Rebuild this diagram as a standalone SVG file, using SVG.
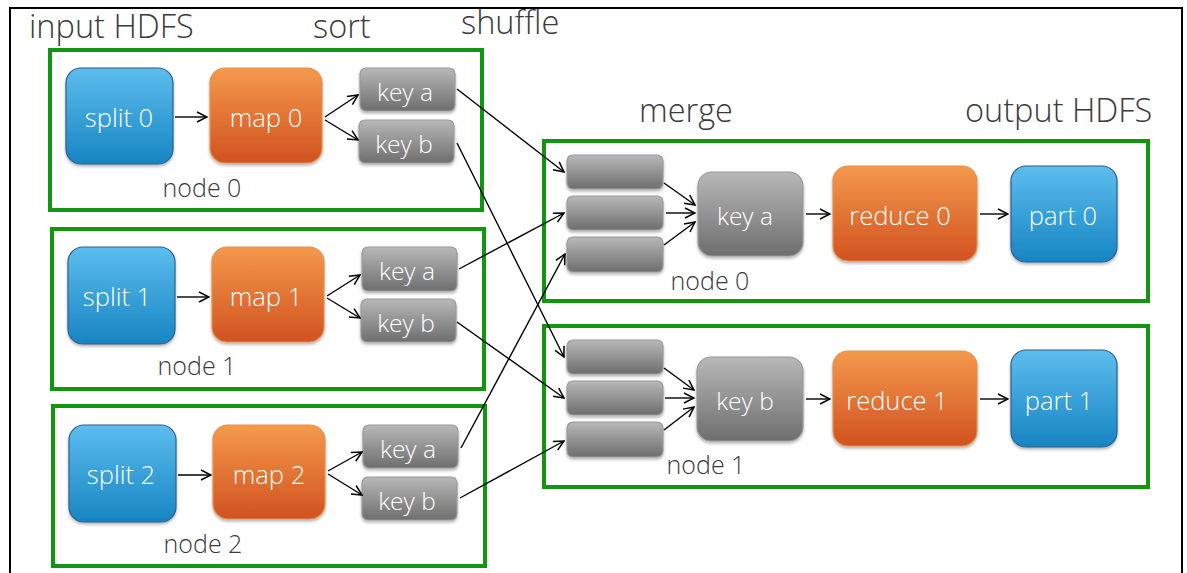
<svg xmlns="http://www.w3.org/2000/svg" width="1187" height="573" viewBox="0 0 1187 573">
  <style>
    .frame { fill: none; stroke: #000; stroke-width: 2; }
    .group { fill: none; stroke: #10960f; stroke-width: 4; }
    .split { fill: url(#gBlue); stroke: #2f5f8c; stroke-width: 1.2; filter: url(#shadow); }
    .map { fill: url(#gOrange); stroke: #e3914a; stroke-width: 1.2; filter: url(#shadow); }
    .key { fill: url(#gGray); stroke: #9a9a9a; stroke-width: 1.2; filter: url(#shadow); }
    .lbl { font-family: "Open Sans", "Liberation Sans", sans-serif; font-weight: 300; fill: #3a3a3a; }
    .head { font-size: 32.5px; }
    .nodelbl { font-size: 25px; text-anchor: middle; }
    .in { font-family: "Open Sans", "Liberation Sans", sans-serif; font-weight: 300; fill: #fff; text-anchor: middle; dominant-baseline: central; }
    .big { font-size: 25.5px; }
    .small { font-size: 24.5px; }
    .conn line { stroke: #000; stroke-width: 1.4; marker-end: url(#arrow); }
  </style>
  <defs>
    <linearGradient id="gBlue" x1="0" y1="0" x2="0" y2="1">
      <stop offset="0" stop-color="#5dbdee"/>
      <stop offset="1" stop-color="#1685c2"/>
    </linearGradient>
    <linearGradient id="gOrange" x1="0" y1="0" x2="0" y2="1">
      <stop offset="0" stop-color="#f4994c"/>
      <stop offset="1" stop-color="#d15220"/>
    </linearGradient>
    <linearGradient id="gGray" x1="0" y1="0" x2="0" y2="1">
      <stop offset="0" stop-color="#b8b8b8"/>
      <stop offset="1" stop-color="#6e6e6e"/>
    </linearGradient>
    <filter id="shadow" x="-20%" y="-20%" width="140%" height="150%">
      <feDropShadow dx="0" dy="2" stdDeviation="1.5" flood-color="#000" flood-opacity="0.3"/>
    </filter>
    <marker id="arrow" viewBox="0 0 12 12" refX="11" refY="6" markerWidth="12" markerHeight="12" markerUnits="userSpaceOnUse" orient="auto">
      <path d="M1,1 L11,6 L1,11" fill="none" stroke="#000" stroke-width="1.5"/>
    </marker>
  </defs>

  <rect width="1187" height="573" fill="#fff"/>
  <!-- outer frame, open at the bottom -->
  <path class="frame" d="M10,575 V8 H1182 V575"/>

  <!-- stage headings -->
  <text class="lbl head" x="29" y="38">input HDFS</text>
  <text class="lbl head" x="313" y="38">sort</text>
  <text class="lbl head" x="461" y="34">shuffle</text>
  <text class="lbl head" x="639" y="122">merge</text>
  <text class="lbl head" x="965" y="122">output HDFS</text>

  <!-- map side, node 0 -->
  <g id="map-node0">
    <rect class="group" x="50" y="50" width="432" height="160"/>
    <rect class="split" x="66" y="68" width="107" height="96" rx="15"/>
    <text class="in big" x="119" y="117">split 0</text>
    <rect class="map" x="210" y="68" width="112" height="95" rx="15"/>
    <text class="in big" x="266" y="117">map 0</text>
    <rect class="key" x="360" y="68" width="95" height="43" rx="6"/>
    <text class="in small" x="405" y="91">key a</text>
    <rect class="key" x="359" y="120" width="95" height="43" rx="6"/>
    <text class="in small" x="404" y="143">key b</text>
    <text class="lbl nodelbl" x="202" y="197">node 0</text>
  </g>

  <!-- map side, node 1 -->
  <g id="map-node1">
    <rect class="group" x="52" y="229" width="432" height="160"/>
    <rect class="split" x="68" y="247" width="107" height="97" rx="15"/>
    <text class="in big" x="117" y="296">split 1</text>
    <rect class="map" x="212" y="247" width="112" height="95" rx="15"/>
    <text class="in big" x="266" y="296">map 1</text>
    <rect class="key" x="362" y="247" width="95" height="44" rx="6"/>
    <text class="in small" x="407" y="270">key a</text>
    <rect class="key" x="361" y="299" width="95" height="43" rx="6"/>
    <text class="in small" x="406" y="322">key b</text>
    <text class="lbl nodelbl" x="197" y="375">node 1</text>
  </g>

  <!-- map side, node 2 -->
  <g id="map-node2">
    <rect class="group" x="53" y="406" width="432" height="160"/>
    <rect class="split" x="69" y="425" width="107" height="97" rx="15"/>
    <text class="in big" x="121" y="474">split 2</text>
    <rect class="map" x="213" y="425" width="112" height="94" rx="15"/>
    <text class="in big" x="269" y="474">map 2</text>
    <rect class="key" x="363" y="425" width="95" height="43" rx="6"/>
    <text class="in small" x="408" y="448">key a</text>
    <rect class="key" x="362" y="477" width="95" height="43" rx="6"/>
    <text class="in small" x="407" y="500">key b</text>
    <text class="lbl nodelbl" x="203" y="553">node 2</text>
  </g>

  <!-- reduce side, node 0 -->
  <g id="reduce-node0">
    <rect class="group" x="544" y="141" width="604" height="160"/>
    <rect class="key" x="567" y="155" width="96" height="34" rx="6"/>
    <rect class="key" x="567" y="196" width="96" height="34" rx="6"/>
    <rect class="key" x="567" y="237" width="96" height="35" rx="6"/>
    <rect class="key" x="698" y="172" width="105" height="84" rx="14"/>
    <text class="in small" x="745" y="215">key a</text>
    <rect class="map" x="833" y="166" width="144" height="95" rx="15"/>
    <text class="in big" x="900" y="215">reduce 0</text>
    <rect class="split" x="1011" y="166" width="106" height="96" rx="15"/>
    <text class="in big" x="1063" y="215">part 0</text>
    <text class="lbl nodelbl" x="710" y="290">node 0</text>
  </g>

  <!-- reduce side, node 1 -->
  <g id="reduce-node1">
    <rect class="group" x="544" y="326" width="604" height="161"/>
    <rect class="key" x="567" y="340" width="96" height="34" rx="6"/>
    <rect class="key" x="567" y="381" width="96" height="34" rx="6"/>
    <rect class="key" x="567" y="422" width="96" height="35" rx="6"/>
    <rect class="key" x="697" y="357" width="106" height="84" rx="14"/>
    <text class="in small" x="745" y="400">key b</text>
    <rect class="map" x="833" y="351" width="144" height="95" rx="15"/>
    <text class="in big" x="897" y="400">reduce 1</text>
    <rect class="split" x="1011" y="350" width="106" height="97" rx="15"/>
    <text class="in big" x="1059" y="400">part 1</text>
    <text class="lbl nodelbl" x="706" y="474">node 1</text>
  </g>

  <!-- connectors -->
  <g id="connectors" class="conn">
    <!-- map side -->
    <line x1="175" y1="117" x2="207" y2="117"/>
    <line x1="325" y1="117" x2="358" y2="95"/>
    <line x1="325" y1="120" x2="358" y2="140"/>
    <line x1="177" y1="297" x2="209" y2="297"/>
    <line x1="327" y1="296" x2="360" y2="275"/>
    <line x1="327" y1="298" x2="360" y2="318"/>
    <line x1="178" y1="475" x2="211" y2="475"/>
    <line x1="328" y1="471" x2="362" y2="452"/>
    <line x1="328" y1="474" x2="362" y2="495"/>
    <!-- shuffle -->
    <line x1="457" y1="89" x2="564" y2="172"/>
    <line x1="457" y1="143" x2="564" y2="357"/>
    <line x1="459" y1="269" x2="564" y2="213"/>
    <line x1="457" y1="322" x2="564" y2="398"/>
    <line x1="461" y1="448" x2="565" y2="254"/>
    <line x1="460" y1="498" x2="564" y2="441"/>
    <!-- merge, node 0 -->
    <line x1="664" y1="183" x2="695" y2="205"/>
    <line x1="666" y1="213" x2="695" y2="213"/>
    <line x1="664" y1="245" x2="695" y2="222"/>
    <line x1="806" y1="214" x2="830" y2="214"/>
    <line x1="980" y1="214" x2="1008" y2="214"/>
    <!-- merge, node 1 -->
    <line x1="664" y1="368" x2="694" y2="390"/>
    <line x1="665" y1="398" x2="694" y2="398"/>
    <line x1="664" y1="430" x2="694" y2="407"/>
    <line x1="806" y1="399" x2="830" y2="399"/>
    <line x1="980" y1="399" x2="1008" y2="399"/>
  </g>
</svg>
